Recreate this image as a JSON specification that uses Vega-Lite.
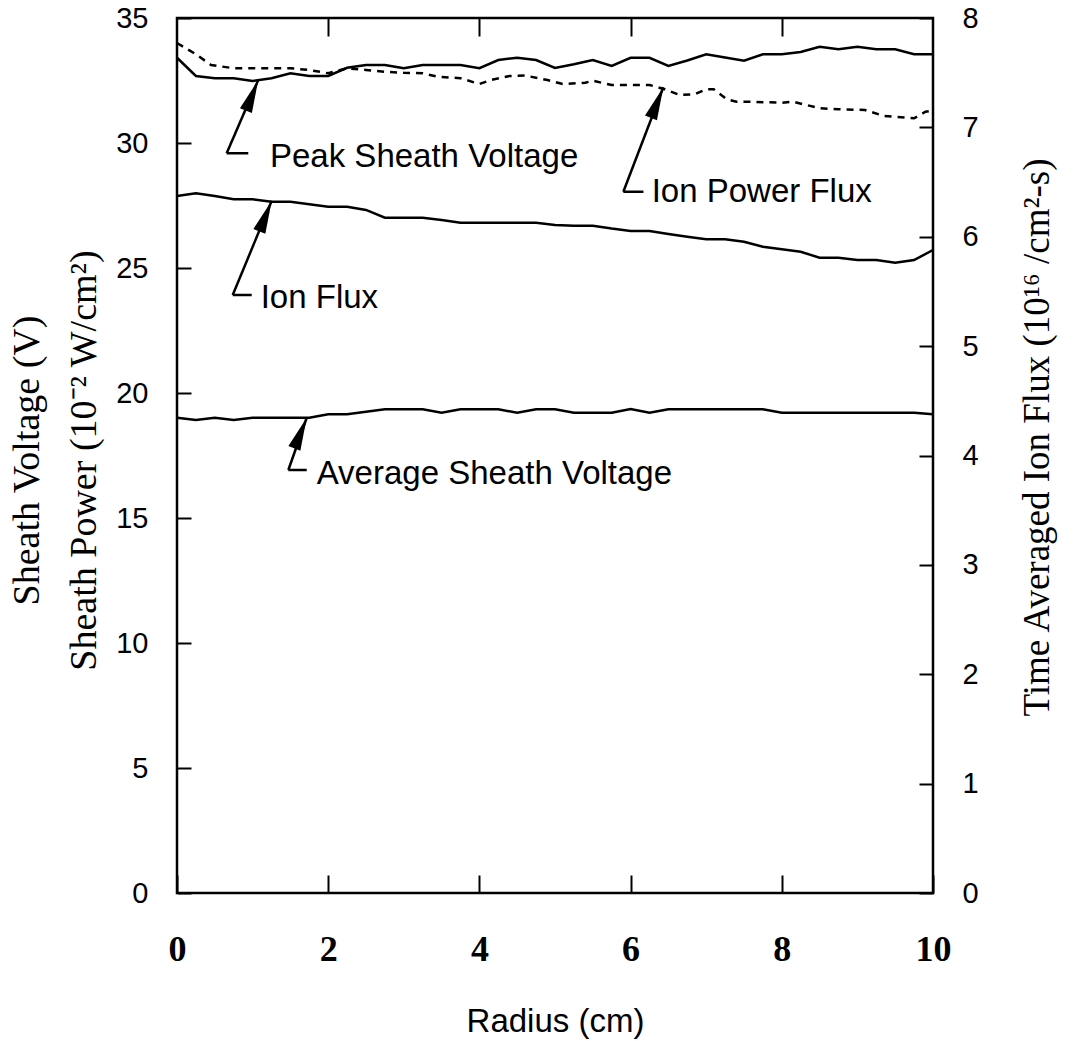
{
  "$schema": "https://vega.github.io/schema/vega-lite/v6.json",
  "width": 756,
  "height": 875,
  "autosize": "none",
  "padding": {"left": 177, "top": 18, "right": 148, "bottom": 148},
  "background": "white",
  "config": {
    "view": {"stroke": "black", "strokeWidth": 2.5},
    "axis": {"domain": false, "grid": false, "labelFlush": false, "labelOverlap": false, "tickColor": "black", "tickWidth": 2, "labelColor": "black", "titleColor": "black", "titleFontWeight": "normal"}
  },
  "datasets": {
    "curves": [
      {"r": 0.00, "v": 33.41, "series": "Peak Sheath Voltage"},
      {"r": 0.25, "v": 32.68, "series": "Peak Sheath Voltage"},
      {"r": 0.50, "v": 32.59, "series": "Peak Sheath Voltage"},
      {"r": 0.75, "v": 32.59, "series": "Peak Sheath Voltage"},
      {"r": 1.00, "v": 32.48, "series": "Peak Sheath Voltage"},
      {"r": 1.25, "v": 32.59, "series": "Peak Sheath Voltage"},
      {"r": 1.50, "v": 32.79, "series": "Peak Sheath Voltage"},
      {"r": 1.75, "v": 32.68, "series": "Peak Sheath Voltage"},
      {"r": 2.00, "v": 32.68, "series": "Peak Sheath Voltage"},
      {"r": 2.25, "v": 33.01, "series": "Peak Sheath Voltage"},
      {"r": 2.50, "v": 33.12, "series": "Peak Sheath Voltage"},
      {"r": 2.75, "v": 33.12, "series": "Peak Sheath Voltage"},
      {"r": 3.00, "v": 32.99, "series": "Peak Sheath Voltage"},
      {"r": 3.25, "v": 33.12, "series": "Peak Sheath Voltage"},
      {"r": 3.50, "v": 33.12, "series": "Peak Sheath Voltage"},
      {"r": 3.75, "v": 33.12, "series": "Peak Sheath Voltage"},
      {"r": 4.00, "v": 32.99, "series": "Peak Sheath Voltage"},
      {"r": 4.25, "v": 33.32, "series": "Peak Sheath Voltage"},
      {"r": 4.50, "v": 33.41, "series": "Peak Sheath Voltage"},
      {"r": 4.75, "v": 33.32, "series": "Peak Sheath Voltage"},
      {"r": 5.00, "v": 33.00, "series": "Peak Sheath Voltage"},
      {"r": 5.25, "v": 33.15, "series": "Peak Sheath Voltage"},
      {"r": 5.50, "v": 33.32, "series": "Peak Sheath Voltage"},
      {"r": 5.75, "v": 33.08, "series": "Peak Sheath Voltage"},
      {"r": 6.00, "v": 33.41, "series": "Peak Sheath Voltage"},
      {"r": 6.25, "v": 33.41, "series": "Peak Sheath Voltage"},
      {"r": 6.50, "v": 33.08, "series": "Peak Sheath Voltage"},
      {"r": 6.75, "v": 33.30, "series": "Peak Sheath Voltage"},
      {"r": 7.00, "v": 33.55, "series": "Peak Sheath Voltage"},
      {"r": 7.25, "v": 33.42, "series": "Peak Sheath Voltage"},
      {"r": 7.50, "v": 33.29, "series": "Peak Sheath Voltage"},
      {"r": 7.75, "v": 33.55, "series": "Peak Sheath Voltage"},
      {"r": 8.00, "v": 33.55, "series": "Peak Sheath Voltage"},
      {"r": 8.25, "v": 33.64, "series": "Peak Sheath Voltage"},
      {"r": 8.50, "v": 33.85, "series": "Peak Sheath Voltage"},
      {"r": 8.75, "v": 33.75, "series": "Peak Sheath Voltage"},
      {"r": 9.00, "v": 33.85, "series": "Peak Sheath Voltage"},
      {"r": 9.25, "v": 33.75, "series": "Peak Sheath Voltage"},
      {"r": 9.50, "v": 33.75, "series": "Peak Sheath Voltage"},
      {"r": 9.75, "v": 33.55, "series": "Peak Sheath Voltage"},
      {"r": 10.00, "v": 33.55, "series": "Peak Sheath Voltage"},

      {"r": 0.00, "v": 19.01, "series": "Average Sheath Voltage"},
      {"r": 0.25, "v": 18.92, "series": "Average Sheath Voltage"},
      {"r": 0.50, "v": 19.01, "series": "Average Sheath Voltage"},
      {"r": 0.75, "v": 18.92, "series": "Average Sheath Voltage"},
      {"r": 1.00, "v": 19.01, "series": "Average Sheath Voltage"},
      {"r": 1.25, "v": 19.01, "series": "Average Sheath Voltage"},
      {"r": 1.50, "v": 19.01, "series": "Average Sheath Voltage"},
      {"r": 1.75, "v": 19.01, "series": "Average Sheath Voltage"},
      {"r": 2.00, "v": 19.15, "series": "Average Sheath Voltage"},
      {"r": 2.25, "v": 19.15, "series": "Average Sheath Voltage"},
      {"r": 2.50, "v": 19.25, "series": "Average Sheath Voltage"},
      {"r": 2.75, "v": 19.35, "series": "Average Sheath Voltage"},
      {"r": 3.00, "v": 19.35, "series": "Average Sheath Voltage"},
      {"r": 3.25, "v": 19.35, "series": "Average Sheath Voltage"},
      {"r": 3.50, "v": 19.21, "series": "Average Sheath Voltage"},
      {"r": 3.75, "v": 19.35, "series": "Average Sheath Voltage"},
      {"r": 4.00, "v": 19.35, "series": "Average Sheath Voltage"},
      {"r": 4.25, "v": 19.35, "series": "Average Sheath Voltage"},
      {"r": 4.50, "v": 19.21, "series": "Average Sheath Voltage"},
      {"r": 4.75, "v": 19.35, "series": "Average Sheath Voltage"},
      {"r": 5.00, "v": 19.35, "series": "Average Sheath Voltage"},
      {"r": 5.25, "v": 19.21, "series": "Average Sheath Voltage"},
      {"r": 5.50, "v": 19.21, "series": "Average Sheath Voltage"},
      {"r": 5.75, "v": 19.21, "series": "Average Sheath Voltage"},
      {"r": 6.00, "v": 19.36, "series": "Average Sheath Voltage"},
      {"r": 6.25, "v": 19.21, "series": "Average Sheath Voltage"},
      {"r": 6.50, "v": 19.35, "series": "Average Sheath Voltage"},
      {"r": 6.75, "v": 19.35, "series": "Average Sheath Voltage"},
      {"r": 7.00, "v": 19.35, "series": "Average Sheath Voltage"},
      {"r": 7.25, "v": 19.35, "series": "Average Sheath Voltage"},
      {"r": 7.50, "v": 19.35, "series": "Average Sheath Voltage"},
      {"r": 7.75, "v": 19.35, "series": "Average Sheath Voltage"},
      {"r": 8.00, "v": 19.21, "series": "Average Sheath Voltage"},
      {"r": 8.50, "v": 19.21, "series": "Average Sheath Voltage"},
      {"r": 9.00, "v": 19.21, "series": "Average Sheath Voltage"},
      {"r": 9.50, "v": 19.21, "series": "Average Sheath Voltage"},
      {"r": 9.75, "v": 19.21, "series": "Average Sheath Voltage"},
      {"r": 10.00, "v": 19.15, "series": "Average Sheath Voltage"}
    ],
    "power": [
      {"r": 0.00, "v": 34.00},
      {"r": 0.25, "v": 33.55},
      {"r": 0.45, "v": 33.12},
      {"r": 0.75, "v": 32.99},
      {"r": 1.00, "v": 32.99},
      {"r": 1.25, "v": 32.99},
      {"r": 1.50, "v": 32.99},
      {"r": 1.75, "v": 32.92},
      {"r": 2.00, "v": 32.79},
      {"r": 2.25, "v": 32.99},
      {"r": 2.50, "v": 32.92},
      {"r": 2.75, "v": 32.85},
      {"r": 3.00, "v": 32.81},
      {"r": 3.25, "v": 32.79},
      {"r": 3.45, "v": 32.65},
      {"r": 3.75, "v": 32.59},
      {"r": 4.00, "v": 32.36},
      {"r": 4.15, "v": 32.52},
      {"r": 4.40, "v": 32.68},
      {"r": 4.60, "v": 32.70},
      {"r": 4.90, "v": 32.52},
      {"r": 5.10, "v": 32.36},
      {"r": 5.40, "v": 32.41},
      {"r": 5.50, "v": 32.49},
      {"r": 5.75, "v": 32.32},
      {"r": 6.00, "v": 32.32},
      {"r": 6.25, "v": 32.32},
      {"r": 6.45, "v": 32.15},
      {"r": 6.65, "v": 31.92},
      {"r": 6.85, "v": 31.95},
      {"r": 7.00, "v": 32.15},
      {"r": 7.10, "v": 32.15},
      {"r": 7.27, "v": 31.75},
      {"r": 7.40, "v": 31.65},
      {"r": 7.60, "v": 31.65},
      {"r": 8.00, "v": 31.61},
      {"r": 8.15, "v": 31.65},
      {"r": 8.50, "v": 31.39},
      {"r": 8.75, "v": 31.35},
      {"r": 9.10, "v": 31.32},
      {"r": 9.35, "v": 31.08},
      {"r": 9.75, "v": 30.99},
      {"r": 9.90, "v": 31.25},
      {"r": 10.00, "v": 31.30}
    ],
    "ionflux": [
      {"r": 0.00, "flux": 6.373},
      {"r": 0.25, "flux": 6.398},
      {"r": 0.50, "flux": 6.373},
      {"r": 0.75, "flux": 6.343},
      {"r": 1.00, "flux": 6.343},
      {"r": 1.25, "flux": 6.320},
      {"r": 1.50, "flux": 6.320},
      {"r": 1.75, "flux": 6.297},
      {"r": 2.00, "flux": 6.274},
      {"r": 2.25, "flux": 6.274},
      {"r": 2.50, "flux": 6.245},
      {"r": 2.75, "flux": 6.174},
      {"r": 3.00, "flux": 6.174},
      {"r": 3.25, "flux": 6.174},
      {"r": 3.50, "flux": 6.153},
      {"r": 3.75, "flux": 6.128},
      {"r": 4.00, "flux": 6.128},
      {"r": 4.25, "flux": 6.128},
      {"r": 4.50, "flux": 6.128},
      {"r": 4.75, "flux": 6.128},
      {"r": 5.00, "flux": 6.107},
      {"r": 5.25, "flux": 6.101},
      {"r": 5.50, "flux": 6.101},
      {"r": 5.75, "flux": 6.075},
      {"r": 6.00, "flux": 6.053},
      {"r": 6.25, "flux": 6.053},
      {"r": 6.50, "flux": 6.025},
      {"r": 6.75, "flux": 6.000},
      {"r": 7.00, "flux": 5.977},
      {"r": 7.25, "flux": 5.977},
      {"r": 7.50, "flux": 5.954},
      {"r": 7.75, "flux": 5.909},
      {"r": 8.00, "flux": 5.886},
      {"r": 8.25, "flux": 5.863},
      {"r": 8.50, "flux": 5.808},
      {"r": 8.75, "flux": 5.808},
      {"r": 9.00, "flux": 5.787},
      {"r": 9.25, "flux": 5.787},
      {"r": 9.50, "flux": 5.762},
      {"r": 9.75, "flux": 5.787},
      {"r": 10.00, "flux": 5.879}
    ],
    "notes": [
      {"label": "Peak Sheath Voltage", "tx": 1.23, "ty": 29.05, "cx": 0.657, "cy": 29.59, "hx": 0.943, "px": 1.075, "py": 32.52},
      {"label": "Ion Power Flux", "tx": 6.279, "ty": 27.65, "cx": 5.904, "cy": 28.05, "hx": 6.17, "px": 6.433, "py": 32.23},
      {"label": "Ion Flux", "tx": 1.107, "ty": 23.39, "cx": 0.737, "cy": 23.92, "hx": 0.988, "px": 1.253, "py": 27.69},
      {"label": "Average Sheath Voltage", "tx": 1.848, "ty": 16.36, "cx": 1.473, "cy": 16.92, "hx": 1.716, "px": 1.716, "py": 19.01}
    ]
  },
  "layer": [
    {
      "layer": [
        {
          "data": {"name": "curves"},
          "mark": {"type": "line", "color": "black", "strokeWidth": 2.5},
          "encoding": {
            "x": {"field": "r", "type": "quantitative", "scale": {"domain": [0, 10], "nice": false},
                  "axis": {"orient": "bottom", "values": [0, 2, 4, 6, 8, 10], "format": "d", "tickSize": -18, "labelPadding": 57,
                           "labelFont": "Liberation Serif", "labelFontWeight": "bold", "labelFontSize": 36,
                           "title": "Radius (cm)", "titleFont": "Liberation Sans", "titleFontSize": 33, "titlePadding": 38}},
            "y": {"field": "v", "type": "quantitative", "scale": {"domain": [0, 35], "nice": false},
                  "axis": {"orient": "left", "values": [0, 5, 10, 15, 20, 25, 30, 35], "format": "d", "tickSize": -14, "labelPadding": 43,
                           "labelFont": "Liberation Sans", "labelFontSize": 29,
                           "title": ["Sheath Voltage (V)", "Sheath Power (10⁻² W/cm²)"], "titleFont": "Liberation Serif", "titleFontSize": 38,
                           "titleLineHeight": 57, "titlePadding": 12, "titleY": 442}},
            "detail": {"field": "series"}
          }
        },
        {
          "data": {"name": "power"},
          "mark": {"type": "line", "color": "black", "strokeWidth": 2.5, "strokeDash": [7, 6]},
          "encoding": {
            "x": {"field": "r", "type": "quantitative"},
            "y": {"field": "v", "type": "quantitative"}
          }
        },
        {
          "data": {"name": "notes"},
          "mark": {"type": "rule", "color": "black", "strokeWidth": 2.5},
          "encoding": {
            "x": {"field": "cx", "type": "quantitative"},
            "y": {"field": "cy", "type": "quantitative"},
            "x2": {"field": "px"},
            "y2": {"field": "py"}
          }
        },
        {
          "data": {"name": "notes"},
          "mark": {"type": "rule", "color": "black", "strokeWidth": 2.5},
          "encoding": {
            "x": {"field": "cx", "type": "quantitative"},
            "y": {"field": "cy", "type": "quantitative"},
            "x2": {"field": "hx"}
          }
        },
        {
          "data": {"name": "notes"},
          "mark": {"type": "point", "shape": "M0,0L-0.39,2L0.39,2Z", "size": 1089, "angle": 22, "filled": true, "color": "black", "opacity": 1},
          "encoding": {
            "x": {"field": "px", "type": "quantitative"},
            "y": {"field": "py", "type": "quantitative"}
          }
        },
        {
          "data": {"name": "notes"},
          "mark": {"type": "text", "align": "left", "baseline": "alphabetic", "font": "Liberation Sans", "fontSize": 33, "color": "black"},
          "encoding": {
            "x": {"field": "tx", "type": "quantitative"},
            "y": {"field": "ty", "type": "quantitative"},
            "text": {"field": "label"}
          }
        }
      ]
    },
    {
      "data": {"name": "ionflux"},
      "mark": {"type": "line", "color": "black", "strokeWidth": 2.5},
      "encoding": {
        "x": {"field": "r", "type": "quantitative",
              "axis": {"orient": "top", "values": [2, 4, 6, 8], "tickSize": -18, "labels": false, "title": null}},
        "y": {"field": "flux", "type": "quantitative", "scale": {"domain": [0, 8], "nice": false},
              "axis": {"orient": "right", "values": [0, 1, 2, 3, 4, 5, 6, 7, 8], "format": "d", "tickSize": -14, "labelPadding": 43,
                       "labelFont": "Liberation Sans", "labelFontSize": 29,
                       "title": "Time Averaged Ion Flux (10¹⁶ /cm²-s)", "titleFont": "Liberation Serif", "titleFontSize": 37,
                       "titleAngle": -90, "titlePadding": 78, "titleY": 419}}
      }
    }
  ],
  "resolve": {"scale": {"y": "independent"}, "axis": {"x": "independent"}}
}
